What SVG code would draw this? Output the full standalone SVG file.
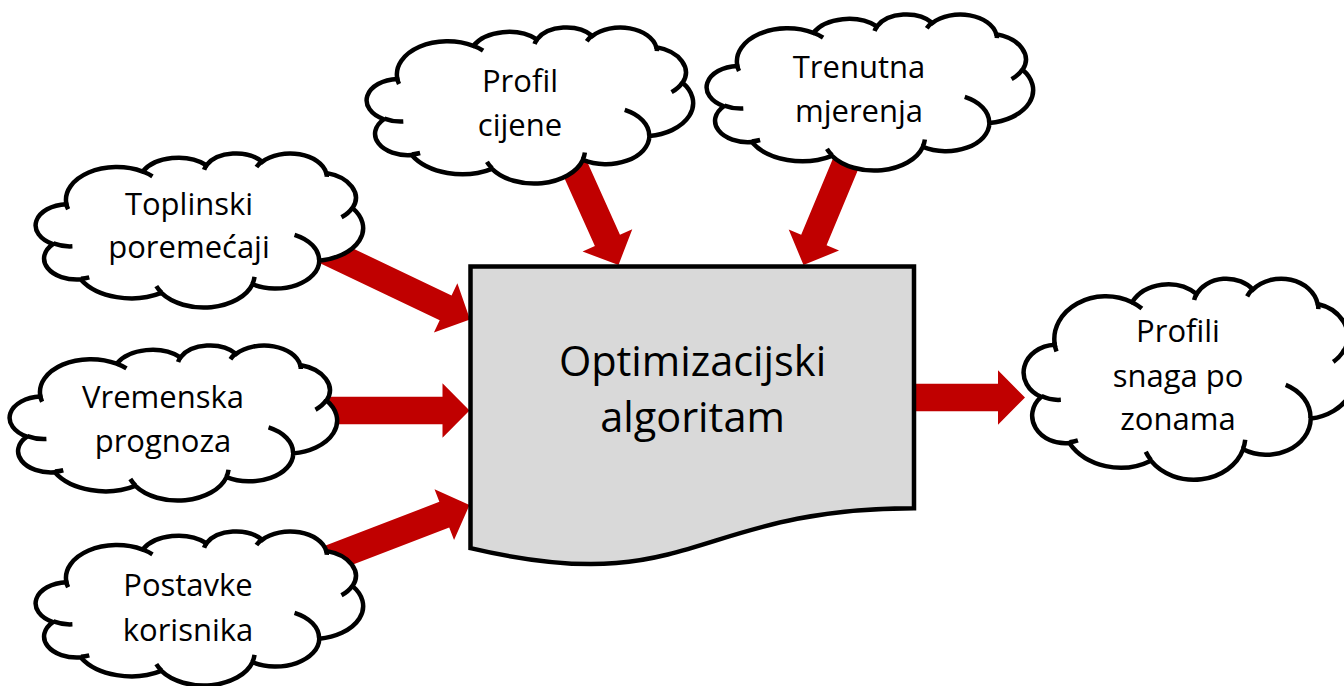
<svg xmlns="http://www.w3.org/2000/svg" xmlns:xlink="http://www.w3.org/1999/xlink" width="1344" height="686" viewBox="0 0 1344 686">
<style>
.lbl{font-family:"Open Sans","Liberation Sans",sans-serif;font-size:31px;fill:#000;text-anchor:middle}
.main{font-family:"Open Sans","Liberation Sans",sans-serif;font-size:41.5px;fill:#000;text-anchor:middle}
.arrow{fill:#c00000;stroke:none}
.doc{fill:#d9d9d9;stroke:#000;stroke-width:4.5;stroke-linejoin:miter}
</style>
<defs>
<g id="cloud">
<path fill="#fff" stroke="#000" stroke-width="4.5" vector-effect="non-scaling-stroke" d="M3900 14370 A6753 9190 0 0 1 14005 5202 A5333 7267 0 0 1 22456 3432 A4365 5945 0 0 1 29833 2481 A4857 6595 0 0 1 38318 5576 A5333 7273 0 0 1 41819 15460 A6775 9220 0 0 1 37405 30203 A5785 7867 0 0 1 28556 36813 A6752 9215 0 0 1 16481 39264 A7720 10543 0 0 1 5805 35470 A4360 5918 0 0 1 2114 25548 A4345 5945 0 0 1 3900 14370 Z"/>
<path fill="none" stroke="#000" stroke-width="4.5" vector-effect="non-scaling-stroke" d="M4693 26177 A4345 5945 0 0 1 2160 25380 M6928 34899 A4360 5918 0 0 1 5820 35280 M16478 39090 A6752 9215 0 0 1 15810 37350 M28827 34751 A6752 9215 0 0 1 28560 36660 M34129 22954 A5785 7867 0 0 1 37380 30090 M41798 15354 A5333 7273 0 0 1 40350 18030 M38324 5426 A4857 6595 0 0 1 38400 6690 M29078 3952 A4857 6595 0 0 1 29820 2340 M22141 4720 A4365 5945 0 0 1 22500 3330 M14000 5192 A6753 9190 0 0 1 15300 6540 M4127 15789 A6753 9190 0 0 1 3824 13769"/>
</g>
</defs>
<rect width="1344" height="686" fill="#fff"/>
<g id="connectors">
<polygon class="arrow" points="322.48,233.90 451.55,295.47 457.36,283.28 470,319.5 433.90,332.48 439.71,320.29 310.64,258.72"/>
<polygon class="arrow" points="320,396.75 442.5,396.75 442.5,383.25 469.5,410.5 442.5,437.75 442.5,424.25 320,424.25"/>
<polygon class="arrow" points="315.19,549.50 439.36,501.84 434.52,489.24 469.5,505 454.06,540.12 449.22,527.52 325.05,575.18"/>
<polygon class="arrow" points="552.66,152.07 594.89,246.01 582.58,251.54 618.5,265 632.28,229.20 619.97,234.73 577.74,140.79"/>
<polygon class="arrow" points="840.77,139.70 801.19,234.79 788.72,229.60 803.5,265 839.04,250.54 826.57,245.35 866.15,150.26"/>
<polygon class="arrow" points="910,383.75 998,383.75 998,370.25 1025,397.5 998,424.75 998,411.25 910,411.25"/>
</g>
<g id="algoritam">
<path class="doc" d="M470.5 266.5 H914 V508.3 C692.2 508.3 692.2 600.4 470.5 548.1 Z"/>
<text class="main" x="692.5" y="376">Optimizacijski</text>
<text class="main" x="692.5" y="432">algoritam</text>
</g>
<g id="toplinski">
<use xlink:href="#cloud" transform="translate(37,153) scale(0.0075463,0.0035648)"/>
<text class="lbl" x="189" y="215">Toplinski</text>
<text class="lbl" x="189" y="258">poremećaji</text>
</g>
<g id="vremenska">
<use xlink:href="#cloud" transform="translate(11,345) scale(0.0075463,0.0035880)"/>
<text class="lbl" x="163" y="408">Vremenska</text>
<text class="lbl" x="163" y="451.5">prognoza</text>
</g>
<g id="postavke">
<use xlink:href="#cloud" transform="translate(37,531) scale(0.0075463,0.0035648)"/>
<text class="lbl" x="188" y="596">Postavke</text>
<text class="lbl" x="188" y="641">korisnika</text>
</g>
<g id="profil-cijene">
<use xlink:href="#cloud" transform="translate(368,27) scale(0.0075231,0.0036111)"/>
<text class="lbl" x="520" y="91.5">Profil</text>
<text class="lbl" x="520" y="136">cijene</text>
</g>
<g id="trenutna">
<use xlink:href="#cloud" transform="translate(708,14) scale(0.0075231,0.0036111)"/>
<text class="lbl" x="859" y="77.5">Trenutna</text>
<text class="lbl" x="859" y="121.5">mjerenja</text>
</g>
<g id="profili">
<use xlink:href="#cloud" transform="translate(1025,278) scale(0.0076389,0.0046528)"/>
<text class="lbl" x="1178" y="341.5">Profili</text>
<text class="lbl" x="1178" y="386.5">snaga po</text>
<text class="lbl" x="1178" y="430">zonama</text>
</g>
</svg>
